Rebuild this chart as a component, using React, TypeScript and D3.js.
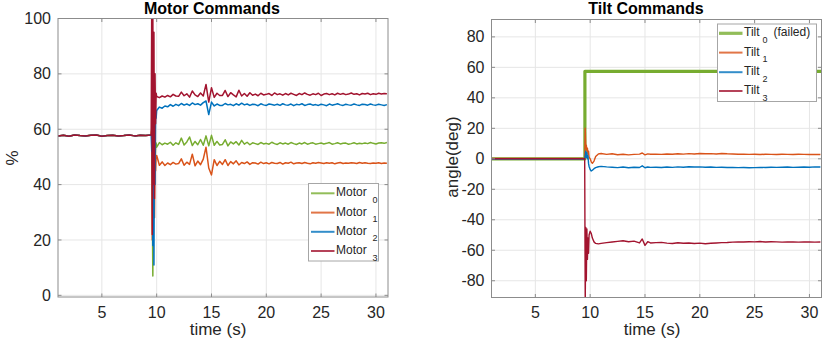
import React from 'react';
import * as d3 from 'd3';

const FONT = 'Liberation Sans, Arial, Helvetica, sans-serif';
const GREEN = '#77AC30';
const ORANGE = '#D95319';
const BLUE = '#0072BD';
const RED = '#A2142F';

const xTicks = [5, 10, 15, 20, 25, 30];
const motorTicks = [0, 20, 40, 60, 80, 100];
const tiltTicks = [-80, -60, -40, -20, 0, 20, 40, 60, 80];

// time (s) for the motor commands: hover, failure transient, recovery
const hoverTime = [1, 1.5, 2, 2.5, 3, 3.5, 4, 4.5, 5, 5.5, 6, 6.5, 7, 7.5, 8, 8.5, 9, 9.5];
const failTime = [9.55, 9.6, 9.65, 9.7, 9.75, 9.8, 9.85, 9.9, 9.95];
const settleTime = [10, 10.25, 10.5, 10.75, 11, 11.25, 11.5, 11.75, 12, 12.25, 12.5, 12.75, 13, 13.25, 13.5, 13.75,
  14, 14.25, 14.5, 14.75, 15, 15.25, 15.5, 15.75, 16, 16.25, 16.5, 16.75, 17, 17.25, 17.5, 17.75, 18, 18.25, 18.5, 18.75,
  19, 19.25, 19.5, 19.75, 20, 20.25, 20.5, 20.75, 21, 21.25, 21.5, 21.75, 22, 22.25, 22.5, 22.75, 23, 23.25, 23.5, 23.75,
  24, 24.25, 24.5, 24.75, 25, 25.25, 25.5, 25.75, 26, 26.25, 26.5, 26.75, 27, 27.25, 27.5, 27.75, 28, 28.25, 28.5, 28.75,
  29, 29.25, 29.5, 29.75, 30, 30.25, 30.5, 30.75, 31];
const motorTime = [...hoverTime, ...failTime, ...settleTime];

const hoverLevel = [57.6, 57.8, 57.5, 57.9, 57.7, 57.6, 57.8, 57.9, 57.5, 57.7, 57.8, 57.6, 57.7, 57.9, 57.6, 57.8, 57.7, 57.9];

const motor0 = [...hoverLevel,
  60, 34, 7, 45, 30, 56, 48, 53, 55,
  53.5, 55.2, 54.4, 55.0, 54.6, 55.3, 54.2, 55.1, 54.5, 56.8, 54.3, 55.4, 57.2, 54.1, 55.6, 54.4,
  56.3, 54.2, 57.6, 54.0, 57.8, 54.2, 55.6, 54.3, 54.5, 56.2, 54.0, 55.4, 54.7, 55.5, 54.3, 56.0,
  54.6, 55.3, 54.4, 55.1, 54.8, 54.5, 55.2, 54.7, 54.9, 54.6, 55.3, 54.8, 54.5, 55.1, 54.7, 55.0,
  54.6, 55.2, 54.8, 54.5, 55.0, 54.7, 55.2, 54.6, 54.9, 55.1, 54.6, 54.8, 55.0, 54.7, 54.9, 55.2,
  54.6, 54.8, 55.1, 54.7, 54.9, 55.0, 54.6, 54.8, 55.1, 54.7, 54.9, 54.8, 55.0, 54.8, 55.2, 54.9,
  54.7, 55.0, 55.1, 54.9, 55.2];

const motor1 = [...hoverLevel,
  60, 20, 45, 30, 55, 28, 52, 45, 50,
  50.5, 47.0, 48.2, 46.9, 47.8, 47.2, 48.0, 47.4, 47.6, 49.3, 47.0, 48.1, 47.3, 51.0, 46.8, 48.5,
  47.2, 49.2, 53.5, 46.0, 43.5, 49.0, 46.9, 48.4, 47.3, 49.0, 46.9, 48.3, 47.5, 48.6, 47.1, 48.0,
  47.6, 48.2, 47.3, 47.9, 47.8, 47.4, 48.1, 47.6, 47.9, 47.5, 48.0, 47.7, 47.6, 48.0, 47.4, 47.9,
  47.7, 48.1, 47.5, 47.8, 47.9, 47.6, 48.0, 47.7, 47.5, 47.9, 47.7, 48.0, 47.8, 47.6, 47.9, 47.7,
  47.9, 47.5, 47.8, 48.0, 47.6, 47.8, 47.7, 47.9, 47.8, 47.6, 48.0, 47.7, 47.9, 47.7, 47.6, 47.8,
  47.7, 47.9, 47.6, 47.8, 47.7];

const motor2 = [...hoverLevel,
  52, 75, 18, 70, 11, 62, 40, 66, 64,
  66.8, 68.0, 67.6, 68.4, 68.1, 68.9, 68.3, 69.0, 68.5, 69.3, 68.7, 69.1, 68.6, 69.5, 68.9, 69.2,
  68.7, 69.6, 70.2, 65.3, 69.8, 68.4, 69.1, 68.6, 68.6, 69.3, 68.8, 69.0, 68.5, 69.2, 68.7, 69.4,
  68.8, 69.1, 68.6, 69.0, 68.9, 68.5, 69.2, 68.8, 68.6, 69.1, 68.9, 68.7, 69.0, 68.6, 69.2, 68.8,
  68.7, 69.1, 68.5, 69.0, 68.8, 69.2, 68.6, 68.9, 69.1, 68.7, 68.9, 68.6, 69.0, 68.8, 68.5, 69.1,
  68.7, 68.9, 69.2, 68.8, 68.6, 69.0, 68.8, 68.7, 69.1, 68.8, 68.6, 69.0, 68.9, 68.7, 69.1, 68.8,
  68.7, 69.0, 68.8, 68.6, 68.9];

const motor3 = [...hoverLevel,
  104, 22, 103, 40, 95, 35, 80, 62, 73,
  71.8, 71.4, 72.0, 71.6, 72.2, 71.7, 72.6, 72.0, 71.9, 73.4, 72.1, 72.8, 71.6, 73.8, 72.4, 71.8,
  73.1, 72.0, 76.2, 69.8, 75.0, 71.5, 73.0, 72.2, 72.2, 74.0, 71.8, 73.2, 72.4, 71.7, 74.1, 72.0,
  72.9, 71.9, 73.2, 72.3, 72.7, 72.1, 73.0, 72.4, 72.6, 72.9, 72.2, 73.1, 72.5, 72.8, 72.3, 72.9,
  72.4, 73.0, 72.6, 72.2, 72.9, 72.5, 73.1, 72.6, 72.3, 72.8, 72.5, 73.0, 72.2, 72.7, 72.9, 72.5,
  72.8, 72.4, 73.0, 72.6, 72.9, 72.5, 72.7, 73.1, 72.6, 72.8, 72.4, 72.9, 72.7, 73.0, 72.5, 72.8,
  72.6, 73.0, 72.7, 72.9, 72.8];

// time (s) for the tilt commands
const tiltTime = [1, 2, 3, 4, 5, 6, 7, 8, 9, 9.5, 9.55, 9.6, 9.65, 9.7, 9.75, 9.8, 9.85, 9.9, 10, 10.1, 10.2, 10.35,
  10.5, 10.75, 11, 11.5, 12, 12.5, 13, 13.5, 14, 14.5, 14.75, 15, 15.25, 15.5, 16, 16.5, 17, 17.5, 18, 18.5, 19, 19.5,
  20, 20.5, 21, 21.5, 22, 22.5, 23, 23.5, 24, 24.5, 25, 25.5, 26, 26.5, 27, 27.5, 28, 28.5, 29, 29.5, 30, 30.5, 31];

const tilt0Time = [1, 9.52, 9.52, 31.2];
const tilt0 = [0, 0, 57.4, 57.4];

const tilt1 = [0.3, 0.2, 0.3, 0.2, 0.3, 0.2, 0.3, 0.2, 0.3, 0.2,
  20, 7, 9, 5, 7, 3, 5, 1, 0, -2, -3, -1.5, 1.5, 3.2, 3.5,
  2.9, 3.3, 2.7, 3.0, 2.6, 2.9, 3.1, 3.8, 2.6, 3.2, 3.0,
  3.1, 2.9, 3.2, 3.0, 3.3, 3.1, 3.4, 3.2, 3.5, 3.3, 3.4, 3.2, 3.5, 3.3, 3.2, 3.0,
  3.1, 2.9, 3.0, 2.8, 3.0, 2.9, 2.8, 3.0, 2.9, 2.8, 3.0, 2.9, 2.8, 2.9, 2.8];

const tilt2 = [-0.2, -0.1, -0.2, -0.1, -0.2, -0.1, -0.2, -0.1, -0.2, -0.1,
  2, 5, 1, 4, 0, 2, -3, -5, -7, -8, -7.5, -6.5, -5.8, -5.2, -5.0,
  -5.3, -5.5, -5.8, -5.4, -5.9, -5.5, -5.7, -4.6, -5.9, -5.4, -5.6,
  -5.5, -5.7, -5.4, -5.6, -5.3, -5.5, -5.2, -5.4, -5.3, -5.5, -5.4, -5.6, -5.5, -5.7, -5.6, -5.8,
  -5.7, -5.9, -5.8, -5.6, -5.7, -5.5, -5.6, -5.5, -5.4, -5.6, -5.5, -5.4, -5.5, -5.3, -5.4];

const tilt3 = [0, 0, 0, 0, 0, 0, 0, 0, 0, 0,
  -95, -45, -80, -46, -66, -52, -62, -50, -47.5, -49, -52, -54.5, -55.5, -55.8, -55.5,
  -55.0, -54.6, -54.2, -53.8, -54.4, -54.0, -55.2, -52.6, -56.8, -54.4, -55.2,
  -55.0, -54.8, -55.3, -55.6, -55.1, -55.4, -55.2, -55.6, -55.3, -55.7, -55.4, -55.2, -55.0, -54.9, -54.7, -54.5,
  -54.6, -54.4, -54.5, -54.3, -54.6, -54.4, -54.5, -54.7, -54.6, -54.5, -54.7, -54.6, -54.5, -54.7, -54.6];

type Series = { label: string; sub: string; extra?: string; color: string; width: number; t: number[]; v: number[] };

type Legend = { x: number; y: number; w: number; h: number; rows: number[]; line: [number, number]; textX: number; subDx: number; extraDx?: number };

type PanelProps = {
  id: string;
  box: { left: number; top: number; right: number; bottom: number };
  yDomain: [number, number];
  yTicks: number[];
  title: string;
  titleX: number;
  yLabel: string;
  yLabelX: number;
  yLabelY: number;
  xLabelX: number;
  series: Series[];
  legend: Legend;
};

const Panel = ({ id, box, yDomain, yTicks, title, titleX, yLabel, yLabelX, yLabelY, xLabelX, series, legend }: PanelProps) => {
  const x = d3.scaleLinear().domain([1, 31.1]).range([box.left, box.right]);
  const y = d3.scaleLinear().domain(yDomain).range([box.bottom, box.top]);
  const axisColor = '#8c8c8c';
  const textColor = '#262626';
  const tick = 3.5;

  return (
    <g>
      <defs>
        <clipPath id={id}>
          <rect x={box.left} y={box.top} width={box.right - box.left} height={box.bottom - box.top} />
        </clipPath>
      </defs>
      <rect x={box.left} y={box.top} width={box.right - box.left} height={box.bottom - box.top} fill="#fff" />
      {/* grid */}
      {xTicks.map(t => (
        <line key={'gx' + t} x1={x(t)} x2={x(t)} y1={box.top} y2={box.bottom} stroke="#e6e6e6" strokeWidth={1} />
      ))}
      {yTicks.map(t => (
        <line key={'gy' + t} x1={box.left} x2={box.right} y1={y(t)} y2={y(t)} stroke="#e6e6e6" strokeWidth={1} />
      ))}
      {/* data */}
      <g clipPath={`url(#${id})`}>
        {series.map(s => {
          const line = d3.line<number>().x((_, i) => x(s.t[i])).y(d => y(d));
          return <path key={s.label + s.sub} d={line(s.v) || ''} fill="none" stroke={s.color} strokeWidth={s.width} strokeLinejoin="round" />;
        })}
      </g>
      {/* box and ticks */}
      <rect x={box.left} y={box.top} width={box.right - box.left} height={box.bottom - box.top} fill="none" stroke={axisColor} strokeWidth={1} />
      {xTicks.map(t => (
        <g key={'tx' + t}>
          <line x1={x(t)} x2={x(t)} y1={box.bottom} y2={box.bottom - tick} stroke={axisColor} />
          <line x1={x(t)} x2={x(t)} y1={box.top} y2={box.top + tick} stroke={axisColor} />
          <text x={x(t)} y={box.bottom + 20.5} textAnchor="middle" fontSize={16} fill={textColor}>{t}</text>
        </g>
      ))}
      {yTicks.map(t => (
        <g key={'ty' + t}>
          <line x1={box.left} x2={box.left + tick} y1={y(t)} y2={y(t)} stroke={axisColor} />
          <line x1={box.right} x2={box.right - tick} y1={y(t)} y2={y(t)} stroke={axisColor} />
          <text x={box.left - 7} y={y(t) + 5.6} textAnchor="end" fontSize={16} fill={textColor}>{t}</text>
        </g>
      ))}
      <text x={titleX} y={14} textAnchor="middle" fontSize={16} fontWeight="bold" fill="#000">{title}</text>
      <text x={xLabelX} y={335} textAnchor="middle" fontSize={17} fill={textColor}>time (s)</text>
      <text transform={`translate(${yLabelX},${yLabelY}) rotate(-90)`} textAnchor="middle" fontSize={17} fill={textColor}>{yLabel}</text>
      {/* legend */}
      <rect x={legend.x} y={legend.y} width={legend.w} height={legend.h} fill="#fff" stroke="#a6a6a6" strokeWidth={1} />
      {series.map((s, i) => (
        <g key={'lg' + i}>
          <line x1={legend.line[0]} x2={legend.line[1]} y1={legend.rows[i]} y2={legend.rows[i]} stroke={s.color} strokeWidth={Math.max(s.width, 2)} strokeOpacity={0.8} />
          <text x={legend.textX} y={legend.rows[i] + 3} fontSize={12} fill={textColor}>{s.label}</text>
          <text x={legend.textX + legend.subDx} y={legend.rows[i] + 9.5} fontSize={9} fill={textColor}>{s.sub}</text>
          {s.extra && legend.extraDx ? (
            <text x={legend.textX + legend.extraDx} y={legend.rows[i] + 3} fontSize={12} fill={textColor}>{s.extra}</text>
          ) : null}
        </g>
      ))}
    </g>
  );
};

export default function App() {
  const motors: Series[] = [
    { label: 'Motor', sub: '0', color: GREEN, width: 1.5, t: motorTime, v: motor0 },
    { label: 'Motor', sub: '1', color: ORANGE, width: 1.5, t: motorTime, v: motor1 },
    { label: 'Motor', sub: '2', color: BLUE, width: 1.5, t: motorTime, v: motor2 },
    { label: 'Motor', sub: '3', color: RED, width: 1.5, t: motorTime, v: motor3 },
  ];
  const tilts: Series[] = [
    { label: 'Tilt', sub: '0', extra: '(failed)', color: GREEN, width: 3.2, t: tilt0Time, v: tilt0 },
    { label: 'Tilt', sub: '1', color: ORANGE, width: 1.4, t: tiltTime, v: tilt1 },
    { label: 'Tilt', sub: '2', color: BLUE, width: 1.4, t: tiltTime, v: tilt2 },
    { label: 'Tilt', sub: '3', color: RED, width: 1.4, t: tiltTime, v: tilt3 },
  ];

  return (
    <svg width={831} height={342} style={{ position: 'absolute', left: 0, top: 0, fontFamily: FONT }}>
      <rect width={831} height={342} fill="#fff" />
      <Panel
        id="clip-motor"
        box={{ left: 58, top: 18.5, right: 388, bottom: 297 }}
        yDomain={[-0.6, 100]}
        yTicks={motorTicks}
        title="Motor Commands"
        titleX={212}
        yLabel="%"
        yLabelX={18}
        yLabelY={158}
        xLabelX={218}
        series={motors}
        legend={{ x: 308.5, y: 183.5, w: 70, h: 77.5, rows: [193.3, 212.6, 231.8, 251], line: [311, 334.5], textX: 336, subDx: 36.5 }}
      />
      <Panel
        id="clip-tilt"
        box={{ left: 491.5, top: 19.5, right: 821.5, bottom: 297.5 }}
        yDomain={[-91, 91.4]}
        yTicks={tiltTicks}
        title="Tilt Commands"
        titleX={646}
        yLabel="angle(deg)"
        yLabelX={458}
        yLabelY={157}
        xLabelX={652}
        series={tilts}
        legend={{ x: 717.5, y: 24, w: 99, h: 77.5, rows: [33.3, 52.6, 72.2, 91], line: [719, 742.5], textX: 744, subDx: 18.5, extraDx: 29.5 }}
      />
    </svg>
  );
}
